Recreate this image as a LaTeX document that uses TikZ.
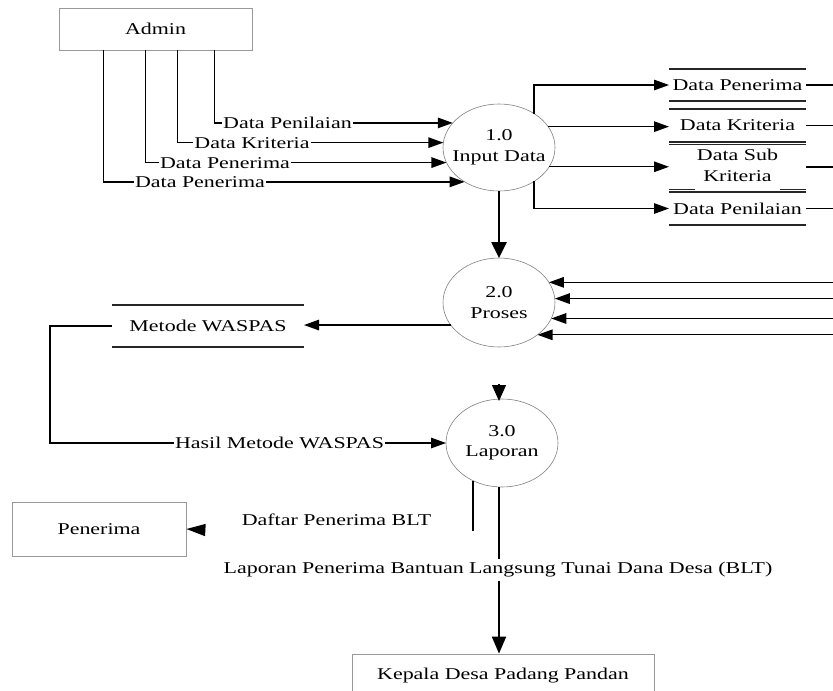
\documentclass[tikz,border=0pt]{standalone}
\usepackage{fontspec}
\setmainfont{Liberation Serif}[FakeStretch=1.33]
\usetikzlibrary{shapes.geometric,arrows.meta,backgrounds}

% two centred lines that do not widen the process ellipse
\newcommand{\procText}[2]{\makebox[0pt]{#1}\\\makebox[0pt]{#2}}

\begin{document}
\begin{tikzpicture}[x=1pt,y=-1pt,
  every node/.style={font=\fontsize{16.5}{20.5}\selectfont},
  entity/.style={draw=black!40, line width=0.8pt, inner sep=0pt},
  proc/.style={ellipse, draw=black!50, line width=0.6pt, inner sep=0pt,
    outer sep=0pt, minimum width=112pt, align=center},
  store/.style={inner sep=0pt, outer sep=0pt, minimum width=137pt},
  storeline/.style={draw=black!85, line width=1.3pt},
  flow/.style={draw, line width=1.3pt, -{Triangle[length=15pt,width=10.5pt]}},
  lbl/.style={fill=white, inner xsep=1.5pt, inner ysep=1pt}]

\useasboundingbox (0,0) rectangle (833,691);

% external entities
\node[entity, minimum width=193pt, minimum height=42pt] (admin) at (155.5,29) {Admin};
\node[entity, minimum width=174pt, minimum height=54pt] (pen) at (99,529) {Penerima};
\node[entity, minimum width=302pt, minimum height=44pt] (kep) at (503,676) {Kepala Desa Padang Pandan};

% processes
\node[proc, minimum height=87pt] (p1) at (499,147.5) {\procText{1.0}{Input Data}};
\node[proc, minimum height=89pt] (p2) at (499,302.5) {\procText{2.0}{Proses}};
\node[proc, minimum height=88pt] (p3) at (502,443) {\procText{3.0}{Laporan}};

% data stores
\node[store, minimum height=32pt] (s1) at (737.5,85) {Data Penerima};
\node[store, minimum height=33pt] (s2) at (737.5,125.5) {Data Kriteria};
\node[store, minimum height=34pt] (s3) at (737.5,167)
  {{\fboxsep=2pt\colorbox{white}{\begin{tabular}{@{}c@{}}Data Sub\\Kriteria\end{tabular}}}};
\node[store, minimum height=33pt] (s4) at (737.5,208.5) {Data Penilaian};
\node[store, minimum width=192pt, minimum height=42pt] (m) at (208,326) {Metode WASPAS};

\begin{scope}[on background layer]
  \foreach \s in {s1,s2,s3,s4,m}
    \draw[storeline] (\s.north west) -- (\s.north east)
                     (\s.south west) -- (\s.south east);
\end{scope}

% Admin -> 1.0
\draw[flow] ([xshift=156pt]admin.south west) |- (p1.152.1);
\draw[flow] ([xshift=119pt]admin.south west) |- (p1.175.4);
\draw[flow] ([xshift=87pt]admin.south west)  |- (p1.196.5);
\draw[flow] ([xshift=45pt]admin.south west)  |- (p1.225.3);
\node[lbl] (l1) at (287.5,123) {Data Penilaian};
\node[lbl] (l2) at (252,143) {Data Kriteria};
\node[lbl] (l3) at (225,163) {Data Penerima};
\node[lbl] (l4) at (200,182) {Data Penerima};

% 1.0 -> data stores
\draw[flow] (p1.44.2) |- (s1.west);
\draw[flow] (p1.23.8) -- (p1.23.8 -| s2.west);
\draw[flow] (p1.-21.3) -- (p1.-21.3 -| s3.west);
\draw[flow] (p1.-44.2) |- (s4.west);

% data stores -> 2.0
\draw[flow] (s1.east) -- ++(64,0) |- (p2.-40.35);
\draw[flow] (s2.east) -- ++(54,0) |- (p2.-17.6);
\draw[flow] (s3.east) -- ++(44,0) |- (p2.4.6);
\draw[flow] (s4.east) -- ++(39,0) |- (p2.22.4);

% 1.0 -> 2.0
\draw[line width=2.6pt, -{Triangle[length=16pt,width=15pt]}] (p1.south) -- (p2.north);

% 2.0 -> Metode WASPAS -> 3.0
\draw[flow] (p2.205.6) -- (p2.205.6 -| m.east);
\draw[flow] (m.west) -- ++(-62,0) |- (p3.west);
\node[lbl] (l5) at (279.5,443) {Hasil Metode WASPAS};

\coordinate (t3) at (499,384);
\draw[line width=1.3pt, -{Triangle[length=16pt,width=14pt]}] (t3) -- ([xshift=-3pt,yshift=-2pt]p3.north);

% 3.0 -> Penerima
\coordinate (d1) at (473,531);
\coordinate (d2) at (205,530);
\draw[line width=2pt] (p3.232.4) -- (p3.232.4 |- d1);
\draw[line width=1.3pt, -{Triangle[length=19pt,width=12pt]}] (d2) -- (pen.east);
\node (l6) at (336.5,520) {Daftar Penerima BLT};

% 3.0 -> Kepala Desa
\draw[line width=2pt, -{Triangle[length=17pt,width=14pt]}] ([xshift=-3pt]p3.south) -- ([xshift=-4pt]kep.north);
\node[lbl, inner ysep=3.5pt] (l7) at (498,570) {Laporan Penerima Bantuan Langsung Tunai Dana Desa (BLT)};

\end{tikzpicture}
\end{document}
